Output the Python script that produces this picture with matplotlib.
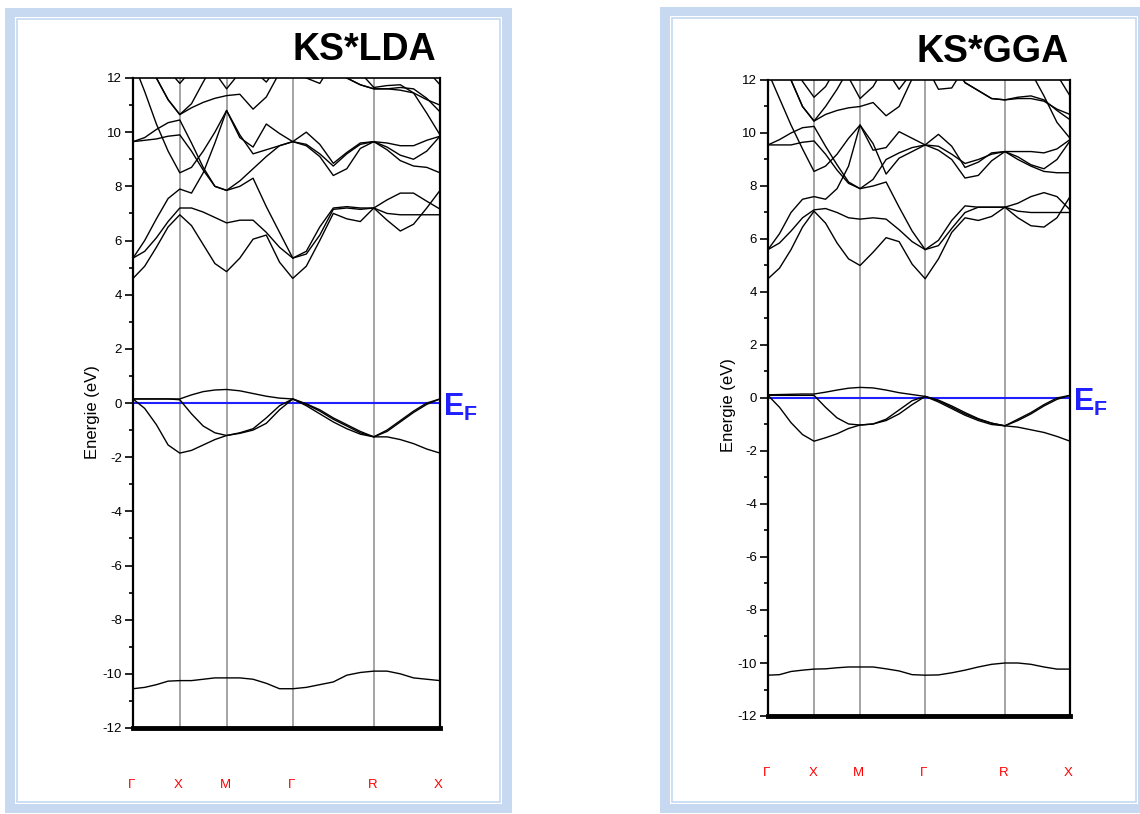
import numpy as np
import matplotlib
matplotlib.use('Agg')
import matplotlib.pyplot as plt
from matplotlib.patches import Rectangle

nan = np.nan

# high symmetry path (simple cubic)
sym_labels = ['Γ', 'X', 'M', 'Γ', 'R', 'X']
sym_k = [0.0, 0.5, 1.0, 1.7071, 2.5731, 3.2802]
seg_steps = [4, 4, 5, 6, 5]

# ---- KS*LDA bands, energies (eV) on the k grid ----
lda_c1 = [4.6, 5.05, 5.75, 6.5, 6.95, 6.55, 5.85, 5.15, 4.85, 5.35, 6.05, 6.2, 5.2, 4.6,
          5.05, 6.0, 7.0, 6.8, 6.7, 7.2, 6.75, 6.35, 6.6, 7.2, 7.85]
lda_c2 = [5.35, 5.6, 6.1, 6.7, 7.2, 7.2, 7.05, 6.85, 6.65, 6.75, 6.75, 6.3, 5.75, 5.35,
          5.6, 6.5, 7.2, 7.25, 7.2, 7.2, 7.0, 6.95, 6.95, 6.95, 6.95]
lda_c3 = [5.35, 6.0, 6.8, 7.55, 7.9, 7.75, 8.5, 9.6, 10.8, 9.8, 9.45, 10.3, 9.95, 9.65,
          10.0, 9.55, 8.85, 9.25, 9.6, 9.65, 9.6, 9.5, 9.5, 9.7, 9.85]
lda_c4 = [9.65, 9.8, 10.1, 10.35, 10.45, 9.6, 8.7, 8.0, 7.85, 8.0, 8.3, 7.25, 6.3, 5.35,
          5.5, 6.2, 7.15, 7.2, 7.15, 7.2, 7.5, 7.75, 7.75, 7.45, 7.16]
lda_c5 = [9.65, 9.7, 9.75, 9.85, 9.9, 9.3, 8.6, 8.0, 7.85, 8.2, 8.65, 9.1, 9.5, 9.65,
          9.5, 9.1, 8.4, 8.65, 9.4, 9.65, 9.45, 9.15, 9.0, 9.3, 9.85]
lda_c6 = [12.6, 11.5, 10.3, 9.3, 8.5, 8.7, 9.3, 10.0, 10.8, 9.9, 9.2, 9.35, 9.5, 9.65,
          9.55, 9.2, 8.75, 9.2, 9.55, 9.65, 9.35, 8.95, 8.75, 8.7, 8.5]
lda_c7 = [13.6, 12.8, 12.0, 11.2, 10.65, 10.9, 11.1, 11.25, 11.35, 11.4, 10.85, 11.3, 12.2] + [nan] * 12
lda_c8 = [13.6, 12.8, 12.0, 11.2, 10.65, 11.05, 11.85, 12.6] + [nan] * 17
lda_c9 = [nan, nan, 13.0, 12.3, 11.8, 12.3, 13.0] + [nan] * 18
lda_c10 = [nan] * 6 + [13.0, 12.2, 11.6, 12.2, 13.0] + [nan] * 14
lda_c11 = [nan] * 10 + [12.3, 11.85, 12.5] + [nan] * 12
lda_c12 = [nan] * 13 + [12.8, 12.0, 11.8, 12.6] + [nan] * 8
lda_c13 = [nan] * 16 + [13.0, 12.0, 11.75, 11.6, 11.6, 11.55, 11.45, 11.2, 11.0]
lda_c14 = [nan] * 18 + [12.2, 11.65, 11.72, 11.75, 11.45, 10.7, 9.9]
lda_c15 = [nan] * 16 + [13.0, 12.0, 11.75, 11.6, 11.6, 11.65, 11.6, 11.25, 10.75]
lda_c16 = [nan] * 22 + [13.0, 12.3, 11.75]
lda_v1 = [0.15, 0.15, 0.15, 0.15, 0.15, 0.3, 0.42, 0.48, 0.5, 0.45, 0.35, 0.25, 0.18, 0.15,
          -0.05, -0.3, -0.6, -0.85, -1.1, -1.25, -1.25, -1.35, -1.5, -1.7, -1.85]
lda_v2 = [0.15, -0.2, -0.8, -1.55, -1.85, -1.75, -1.55, -1.35, -1.2, -1.12, -1.0, -0.75, -0.25, 0.15,
          -0.1, -0.4, -0.7, -0.95, -1.15, -1.25, -1.05, -0.7, -0.35, -0.05, 0.15]
lda_v3 = [0.15, 0.15, 0.15, 0.15, 0.12, -0.4, -0.85, -1.1, -1.2, -1.1, -0.95, -0.55, -0.1, 0.15,
          -0.03, -0.25, -0.55, -0.8, -1.05, -1.25, -1.0, -0.65, -0.3, 0.0, 0.15]
lda_low = [-10.55, -10.5, -10.4, -10.27, -10.25, -10.25, -10.2, -10.15, -10.15, -10.15, -10.2, -10.35,
           -10.55, -10.55, -10.5, -10.4, -10.3, -10.05, -9.95, -9.9, -9.9, -10.0, -10.15, -10.2, -10.25]

# ---- KS*GGA bands ----
gga_c1 = [4.5, 4.9, 5.6, 6.45, 7.05, 6.6, 5.85, 5.25, 5.0, 5.5, 6.05, 5.9, 5.05, 4.5,
          5.25, 6.25, 6.8, 6.7, 6.85, 7.2, 6.8, 6.5, 6.45, 6.8, 7.6]
gga_c2 = [5.6, 5.85, 6.3, 6.8, 7.1, 7.15, 7.0, 6.8, 6.75, 6.8, 6.75, 6.35, 5.9, 5.6,
          5.95, 6.7, 7.25, 7.2, 7.2, 7.2, 7.05, 7.0, 7.0, 7.0, 7.0]
gga_c3 = [5.6, 6.2, 7.0, 7.5, 7.6, 7.5, 7.9, 8.75, 10.3, 9.35, 9.45, 10.05, 9.8, 9.55,
          9.95, 9.5, 8.7, 8.9, 9.25, 9.3, 9.3, 9.3, 9.25, 9.4, 9.75]
gga_c4 = [9.55, 9.75, 10.0, 10.2, 10.25, 9.5, 8.8, 8.15, 7.9, 8.0, 8.15, 7.2, 6.3, 5.6,
          5.75, 6.4, 7.0, 7.2, 7.2, 7.2, 7.35, 7.6, 7.75, 7.6, 7.1]
gga_c5 = [9.55, 9.55, 9.55, 9.65, 9.7, 9.2, 8.6, 8.1, 7.9, 8.25, 9.0, 9.25, 9.45, 9.55,
          9.35, 9.0, 8.3, 8.4, 8.95, 9.3, 9.1, 8.8, 8.65, 9.0, 9.7]
gga_c6 = [12.3, 11.3, 10.3, 9.4, 8.55, 8.75, 9.2, 9.8, 10.3, 9.6, 8.45, 9.05, 9.3, 9.55,
          9.5, 9.2, 8.85, 9.0, 9.2, 9.3, 9.0, 8.75, 8.55, 8.5, 8.5]
gga_c7 = [13.6, 12.9, 12.0, 11.0, 10.45, 10.7, 10.85, 10.95, 11.0, 11.15, 10.65, 11.0, 12.05] + [nan] * 12
gga_c8 = [13.6, 12.9, 12.0, 11.0, 10.45, 11.0, 11.65, 12.4] + [nan] * 17
gga_c9 = [nan, nan, 12.6, 11.95, 11.35, 11.75, 12.5] + [nan] * 18
gga_c10 = [nan] * 6 + [13.0, 12.1, 11.3, 11.75, 12.6] + [nan] * 14
gga_c11 = [nan] * 10 + [12.4, 11.65, 12.3] + [nan] * 12
gga_c12 = [nan] * 13 + [12.6, 11.65, 11.7, 12.5] + [nan] * 8
gga_c13 = [nan] * 15 + [12.7, 11.9, 11.6, 11.3, 11.25, 11.3, 11.3, 11.2, 10.9, 10.7]
gga_c14 = [nan] * 15 + [12.7, 11.9, 11.6, 11.3, 11.25, 11.35, 11.4, 11.25, 10.85, 10.5]
gga_c15 = [nan] * 20 + [13.0, 12.3, 11.4, 10.4, 9.8]
gga_c16 = [nan] * 22 + [13.0, 12.2, 11.4]
gga_v1 = [0.12, 0.13, 0.14, 0.15, 0.15, 0.22, 0.3, 0.37, 0.4, 0.38, 0.3, 0.2, 0.13, 0.06,
          -0.1, -0.35, -0.6, -0.8, -0.95, -1.05, -1.1, -1.2, -1.3, -1.45, -1.63]
gga_v2 = [0.1, -0.35, -0.93, -1.38, -1.63, -1.5, -1.35, -1.15, -1.02, -0.98, -0.85, -0.6, -0.25, 0.06,
          -0.15, -0.4, -0.65, -0.85, -1.0, -1.05, -0.85, -0.6, -0.3, -0.05, 0.1]
gga_v3 = [0.1, 0.1, 0.1, 0.1, 0.1, -0.35, -0.75, -0.98, -1.02, -0.98, -0.8, -0.45, -0.1, 0.06,
          -0.08, -0.3, -0.55, -0.78, -0.95, -1.05, -0.8, -0.55, -0.25, 0.0, 0.1]
gga_low = [-10.46, -10.44, -10.32, -10.27, -10.23, -10.22, -10.18, -10.15, -10.15, -10.15, -10.22, -10.3,
           -10.44, -10.46, -10.45, -10.37, -10.27, -10.15, -10.05, -10.0, -10.0, -10.05, -10.15, -10.23, -10.23]

lda_bands = [lda_c1, lda_c2, lda_c3, lda_c4, lda_c5, lda_c6, lda_c7, lda_c8, lda_c9, lda_c10,
             lda_c11, lda_c12, lda_c13, lda_c14, lda_c15, lda_c16, lda_v1, lda_v2, lda_v3, lda_low]
gga_bands = [gga_c1, gga_c2, gga_c3, gga_c4, gga_c5, gga_c6, gga_c7, gga_c8, gga_c9, gga_c10,
             gga_c11, gga_c12, gga_c13, gga_c14, gga_c15, gga_c16, gga_v1, gga_v2, gga_v3, gga_low]

# k grid along the path
k = [sym_k[0]]
for i, n in enumerate(seg_steps):
    k += list(np.linspace(sym_k[i], sym_k[i + 1], n + 1)[1:])
k = np.array(k)

plt.rcParams['font.family'] = ['Liberation Sans', 'DejaVu Sans']
plt.rcParams['axes.unicode_minus'] = False
plt.rcParams['mathtext.fontset'] = 'custom'
plt.rcParams['mathtext.rm'] = 'Liberation Sans'
plt.rcParams['mathtext.bf'] = 'Liberation Sans:bold'

W, H = 1140, 814
fig = plt.figure(figsize=(W / 100, H / 100), dpi=100)
band_col = '#c6d9f1'


def px_rect(x0, y0, x1, y1):
    return [x0 / W, 1 - y1 / H, (x1 - x0) / W, (y1 - y0) / H]


def frame(x0, y0, x1, y1):
    # light blue window border around each panel
    fig.patches.append(Rectangle((x0 / W, 1 - y1 / H), (x1 - x0) / W, (y1 - y0) / H,
                                 transform=fig.transFigure, facecolor=band_col,
                                 edgecolor='none', zorder=-10))
    fig.patches.append(Rectangle(((x0 + 10) / W, 1 - (y1 - 9) / H), (x1 - x0 - 20) / W,
                                 (y1 - y0 - 18) / H, transform=fig.transFigure,
                                 facecolor='white', edgecolor='none', zorder=-9))
    fig.patches.append(Rectangle(((x0 + 12) / W, 1 - (y1 - 11) / H), (x1 - x0 - 24) / W,
                                 (y1 - y0 - 22) / H, transform=fig.transFigure,
                                 facecolor='none', edgecolor=band_col, lw=1.2, zorder=-8))


frame(5, 8, 512, 813)
frame(660, 7, 1148, 813)


def band_panel(rect, bands, title, title_xy, ylab_xy):
    ax = fig.add_axes(px_rect(*rect))
    ax.set_facecolor('none')
    for kk in sym_k[1:-1]:
        ax.axvline(kk, color='#8c8c8c', lw=1.1, zorder=1)
    ax.axhline(0, color='#1f1fff', lw=1.5, zorder=2)
    for b in bands:
        ax.plot(k, b, color='black', lw=1.0, zorder=3)
    ax.set_xlim(sym_k[0], sym_k[-1])
    ax.set_ylim(-12, 12)
    ax.set_xticks([])
    ax.set_yticks(range(-12, 13, 2))
    ax.set_yticks(range(-11, 12, 2), minor=True)
    ax.tick_params(axis='y', which='major', direction='out', length=6, width=1.2,
                   labelsize=9.5, pad=2)
    ax.tick_params(axis='y', which='minor', direction='out', length=3, width=1.2)
    ax.spines['left'].set_linewidth(1.6)
    ax.spines['right'].set_linewidth(1.6)
    ax.spines['top'].set_linewidth(1.2)
    ax.spines['bottom'].set_linewidth(3.5)

    # k point labels in red, well below the axis
    for kk, lab in zip(sym_k, sym_labels):
        ax.annotate(lab, xy=(kk, 0), xycoords=ax.get_xaxis_transform(),
                    xytext=(-1, -41), textcoords='offset points', ha='center',
                    va='center', color='red', fontsize=9.5)

    ax.annotate(r'$\mathbf{E_F}$', xy=(1, 0), xycoords=ax.get_yaxis_transform(),
                xytext=(2, -3), textcoords='offset points', ha='left', va='center',
                color='#1f1fff', fontsize=22, annotation_clip=False)

    fig.text(title_xy[0] / W, 1 - title_xy[1] / H, title, ha='right', va='center',
             fontsize=27, fontweight='bold')
    fig.text(ylab_xy[0] / W, 1 - ylab_xy[1] / H, 'Energie (eV)', rotation=90,
             ha='center', va='center', fontsize=12)
    return ax


band_panel((133, 78, 440, 728), lda_bands, 'KS*LDA', (436, 50), (92, 412))
band_panel((768, 80, 1070, 716), gga_bands, 'KS*GGA', (1069, 52), (728, 405))

fig.savefig('out.png', dpi=100)
